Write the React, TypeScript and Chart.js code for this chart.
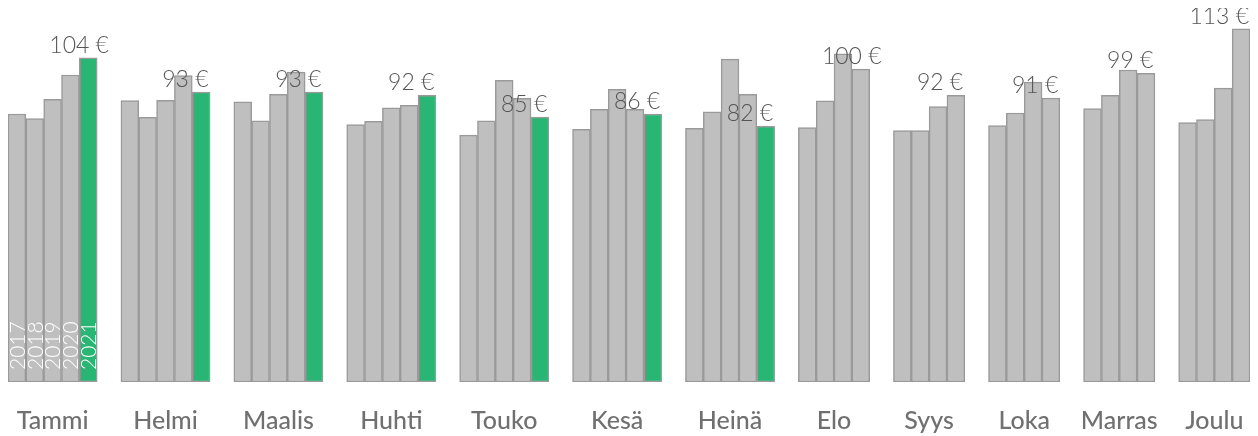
import { useEffect, useRef } from "react";
import { Chart, registerables } from "chart.js";
Chart.register(...registerables);

const MONTHS = ["Tammi", "Helmi", "Maalis", "Huhti", "Touko", "Kesä", "Heinä", "Elo", "Syys", "Loka", "Marras", "Joulu"];
const YEARS = ["2017", "2018", "2019", "2020", "2021"];
const V2017 = [86.0, 90.3, 89.9, 82.6, 79.2, 81.1, 81.4, 81.6, 80.7, 82.3, 87.7, 83.2];
const V2018 = [84.5, 84.9, 83.8, 83.6, 83.8, 87.5, 86.7, 90.2, 80.7, 86.3, 92.0, 84.2];
const V2019 = [90.7, 90.4, 92.3, 88.0, 96.8, 93.9, 103.6, 105.3, 88.4, 96.2, 100.1, 94.3];
const V2020 = [98.5, 98.3, 99.4, 88.8, 91.0, 87.5, 92.3, 100.4, 92.0, 91.1, 99.0, 113.3];
const V2021 = [104, 93, 93, 92, 85, 86, 82];
const SERIES: number[][] = [V2017, V2018, V2019, V2020, V2021];

const GRAY = "#bfbfbf";
const GREEN = "#29b573";
const BORDER = "#9a9a9a";
const GAP = 1.33;

function buildLayout() {
  const pos: number[][] = YEARS.map(() => []);
  const centers: number[] = [];
  let cursor = 0;
  MONTHS.forEach((_, m) => {
    const present = SERIES.map((s, si) => (s[m] != null ? si : -1)).filter((i) => i >= 0);
    present.forEach((si, k) => {
      pos[si][m] = cursor + k;
    });
    centers.push(cursor + (present.length - 1) / 2);
    cursor += present.length + GAP;
  });
  const end = cursor - GAP - 1;
  return { pos, centers, end };
}

export default function App() {
  const ref = useRef<HTMLCanvasElement | null>(null);
  useEffect(() => {
    if (!ref.current) return;
    const { pos, centers, end } = buildLayout();

    const datasets = SERIES.map((s, si) => ({
      label: YEARS[si],
      data: s.map((v, m) => ({ x: pos[si][m], y: v })),
      backgroundColor: si === 4 ? GREEN : GRAY,
      borderColor: BORDER,
      borderWidth: 1.5,
      borderSkipped: false as const,
      barPercentage: 1,
      categoryPercentage: 1,
      grouped: false,
    }));

    const labelsPlugin = {
      id: "valueLabels",
      afterDatasetsDraw(chart: any) {
        const ctx = chart.ctx;
        const area = chart.chartArea;
        ctx.save();
        ctx.font = "300 23px Lato";
        ctx.fillStyle = "#555555";
        ctx.textAlign = "left";
        ctx.textBaseline = "alphabetic";
        MONTHS.forEach((_, m) => {
          let last = -1;
          SERIES.forEach((s, si) => {
            if (s[m] != null) last = si;
          });
          if (last < 0) return;
          const el = chart.getDatasetMeta(last).data[m];
          if (!el) return;
          const text = Math.round(SERIES[last][m]) + " €";
          const w = ctx.measureText(text).width;
          const left = Math.min(el.x - el.width / 2 - 30, area.right - w - 1);
          ctx.fillText(text, left, el.y - 5);
        });
        ctx.font = "300 21px Lato";
        ctx.fillStyle = "#ffffff";
        ctx.textBaseline = "middle";
        SERIES.forEach((_, si) => {
          const el = chart.getDatasetMeta(si).data[0];
          if (!el) return;
          ctx.save();
          ctx.translate(el.x + 1, el.base - 12);
          ctx.rotate(-Math.PI / 2);
          ctx.fillText(YEARS[si], 0, 0);
          ctx.restore();
        });
        ctx.restore();
      },
    };

    const chart = new Chart(ref.current, {
      type: "bar",
      data: { datasets } as any,
      plugins: [labelsPlugin],
      options: {
        animation: false,
        responsive: true,
        maintainAspectRatio: false,
        layout: { padding: { left: 0, right: 0, top: 0, bottom: 0 } },
        plugins: { legend: { display: false }, tooltip: { enabled: false } },
        scales: {
          x: {
            type: "linear",
            min: -0.5,
            max: end + 0.5,
            offset: false,
            grid: { display: false, drawTicks: true, tickLength: 24 },
            border: { display: false },
            afterBuildTicks: (axis: any) => {
              axis.ticks = centers.map((c) => ({ value: c }));
            },
            ticks: {
              autoSkip: false,
              maxRotation: 0,
              padding: 0,
              color: "#707070",
              font: { family: "Lato", size: 25, weight: "500" },
              callback: (_v: any, i: number) => MONTHS[i],
            },
          },
          y: {
            display: false,
            min: 0,
            max: 120,
          },
        },
      } as any,
    });
    return () => chart.destroy();
  }, []);

  return (
    <div style={{ width: 1242, height: 428, position: "relative" }}>
      <canvas ref={ref} />
    </div>
  );
}
